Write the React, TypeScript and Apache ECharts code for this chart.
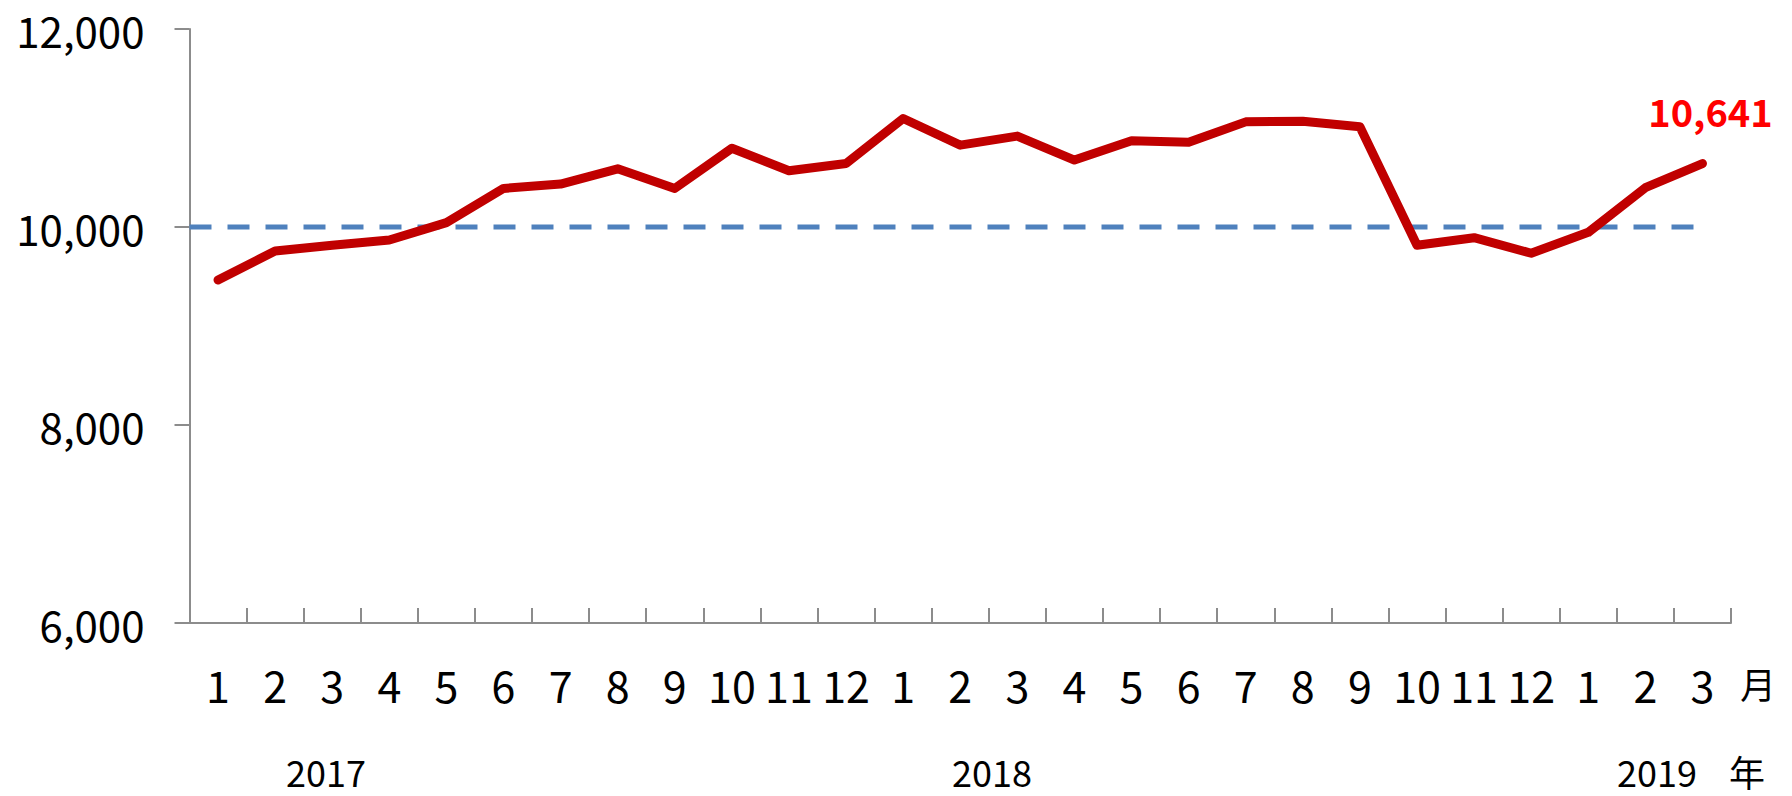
import React, { useEffect, useRef } from "react";
import * as echarts from "echarts";

const months = ["1","2","3","4","5","6","7","8","9","10","11","12","1","2","3","4","5","6","7","8","9","10","11","12","1","2","3"];
const values = [9465, 9758, 9815, 9869, 10044, 10390, 10434, 10588, 10390, 10795, 10568, 10642,
  11096, 10827, 10918, 10676, 10871, 10855, 11062, 11069, 11012, 9815, 9892, 9735,
  9946, 10397, 10641];
const baseline = 10000;
const baselineSpan = [0, 26.5];
const yTicks = { min: 6000, max: 12000, interval: 2000 };
const years = ["2017", "2018", "2019"];
const monthUnit = "月";
const yearUnit = "年";

const FONT = "'Noto Sans CJK KR', 'Noto Sans', sans-serif";

export default function App() {
  const ref = useRef<HTMLDivElement>(null);
  useEffect(() => {
    if (!ref.current) return;
    const chart = echarts.init(ref.current, null, { renderer: "svg" });
    const axisColor = "#8c8c8c";
    const lastIdx = values.length - 1;
    const yearStyle = (text: string) => ({ text, fontSize: 36, fontFamily: FONT, fill: "#000", align: "center", verticalAlign: "middle" });
    chart.setOption({
      animation: false,
      backgroundColor: "#ffffff",
      grid: { left: 189.5, right: 61, top: 29, bottom: 173 },
      xAxis: [
        {
          type: "category",
          data: months,
          boundaryGap: true,
          axisLine: { lineStyle: { color: axisColor, width: 2 } },
          axisTick: { show: true, inside: true, length: 15, interval: 0, lineStyle: { color: axisColor, width: 2 } },
          axisLabel: { interval: 0, margin: 39, color: "#000", fontSize: 43, fontFamily: FONT },
        },
        { type: "value", min: 0, max: 27, show: false },
      ],
      yAxis: {
        type: "value",
        min: yTicks.min,
        max: yTicks.max,
        interval: yTicks.interval,
        splitLine: { show: false },
        axisLine: { show: true, lineStyle: { color: axisColor, width: 2 } },
        axisTick: { show: true, length: 15, lineStyle: { color: axisColor, width: 2 } },
        axisLabel: {
          margin: 45,
          color: "#000",
          fontSize: 42,
          fontFamily: FONT,
          formatter: (v: number) => v.toLocaleString("en-US"),
        },
      },
      series: [
        {
          type: "line",
          xAxisIndex: 1,
          data: baselineSpan.map((x) => [x, baseline]),
          symbol: "none",
          lineStyle: { color: "#4f81bd", width: 5, type: [22, 16] },
          silent: true,
        },
        {
          type: "line",
          data: values,
          symbol: "none",
          lineStyle: { color: "#c00000", width: 9, join: "round", cap: "round" },
        },
        {
          type: "scatter",
          data: values.map((v, i) => (i === lastIdx ? v : null)),
          symbol: "circle",
          symbolSize: 1,
          itemStyle: { color: "transparent", opacity: 1 },
          label: {
            show: true,
            position: "top",
            distance: 34,
            offset: [8, 0],
            formatter: (p: any) => Number(p.value).toLocaleString("en-US"),
            color: "#ff0000",
            opacity: 1,
            fontWeight: "bold",
            fontSize: 38,
            fontFamily: FONT,
          },
          silent: true,
        },
      ],
      graphic: [
        { type: "text", x: 1758, y: 683, style: { text: monthUnit, fontSize: 36, fontFamily: FONT, fill: "#000", align: "center", verticalAlign: "middle" } },
        { type: "text", x: 326, y: 771, style: yearStyle(years[0]) },
        { type: "text", x: 992, y: 771, style: yearStyle(years[1]) },
        { type: "text", x: 1657, y: 771, style: yearStyle(years[2]) },
        { type: "text", x: 1747, y: 771, style: yearStyle(yearUnit) },
      ],
    });
    return () => chart.dispose();
  }, []);
  return (
    <div
      ref={ref}
      style={{ position: "fixed", left: 0, top: 0, width: 1792, height: 796, background: "#fff" }}
    />
  );
}
